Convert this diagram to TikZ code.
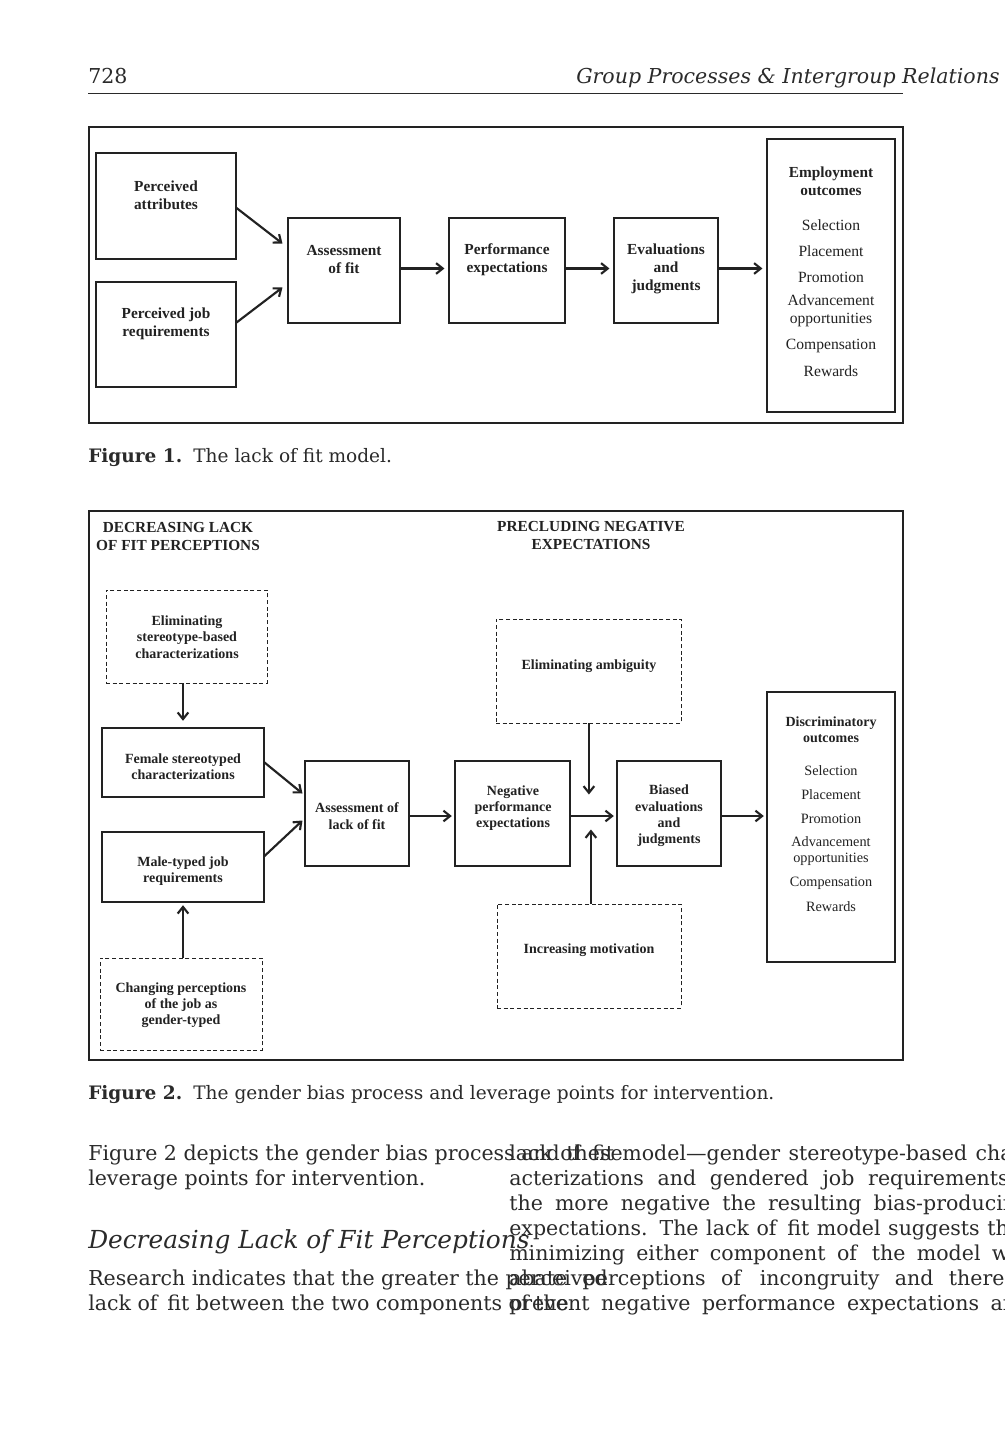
\documentclass[tikz,border=0pt]{standalone}
\usepackage{fontspec}
\setmainfont{DejaVu Serif}
\newfontfamily\figfont{Liberation Serif}
\usetikzlibrary{arrows.meta,calc}
\definecolor{ink}{HTML}{222222}
\definecolor{bodyink}{HTML}{2A2A2A}
\newcommand{\bodysize}{\fontsize{15.4}{18.8}\selectfont}

\begin{document}
\begin{tikzpicture}[x=0.75pt,y=-0.75pt,
  box/.style={draw=ink,line width=0.8pt,inner sep=0pt},
  dbox/.style={box,line width=0.7pt,dash pattern=on 3pt off 2pt},
  sz/.style 2 args={minimum width=#1*0.75pt,minimum height=#2*0.75pt},
  arr/.style={draw=ink,line width=1.6pt,-{Straight Barb[length=5pt,width=8pt]}},
  lbl/.style={align=center,text=ink,inner sep=0pt,font=\figfont\bfseries\fontsize{11.5}{13.5}\selectfont},
  lbltwo/.style={align=center,text=ink,inner sep=0pt,font=\figfont\bfseries\fontsize{10.5}{12.2}\selectfont},
  item/.style={align=center,text=ink,inner sep=0pt,font=\figfont\fontsize{11.7}{13.5}\selectfont},
  itemtwo/.style={align=center,text=ink,inner sep=0pt,font=\figfont\fontsize{10.7}{12.2}\selectfont},
  heading/.style={align=center,text=ink,inner sep=0pt,font=\figfont\bfseries\fontsize{11.5}{13.5}\selectfont},
  line/.style={anchor=base west,inner sep=0pt,text=bodyink,font=\bodysize}]
\useasboundingbox (0,0) rectangle (1004,1430);
\fill[white] (0,0) rectangle (1004,1430);
\clip (0,0) rectangle (1004,1430);

% running head
\node[line] (pnum) at (88,84) {728};
\node[line,font=\bodysize\itshape] (jname) at (576,84) {Group Processes \& Intergroup Relations};
\draw[line width=0.6pt,bodyink] (88,93) -- (903,93);

% Figure 1
\draw[draw=ink,line width=0.9pt] (89,127) rectangle (903,423);

\node[box,sz={140}{106}] (pa) at (166,206) {};
\node[lbl] (patxt) at (166,195) {Perceived\\attributes};
\node[box,sz={140}{105}] (pj) at (166,334.5) {};
\node[lbl] (pjtxt) at (166,324) {Perceived job\\requirements};
\node[box,sz={112}{105}] (fit) at (344,270.5) {};
\node[lbl] (fittxt) at (344,260) {Assessment\\of fit};
\node[box,sz={116}{105}] (perf) at (507,270.5) {};
\node[lbl] (perftxt) at (507,260) {Performance\\expectations};
\node[box,sz={104}{105}] (eval) at (666,270.5) {};
\node[lbl] (evaltxt) at (666,269) {Evaluations\\and\\judgments};
\node[box,sz={128}{273}] (emp) at (831,275.5) {};
\node[lbl] (emptxt) at (831,181) {Employment\\outcomes};
\foreach \t/\y in {Selection/225,Placement/251,Promotion/277,{Advancement\\opportunities}/311,Compensation/346,Rewards/371}
{
\node[item] (emp\y) at (831,\y) {\t};
}

\draw[arr] ($(pa.east)+(0,2)$) -- ($(fit.west)+(-5,-27)$);
\draw[arr] ($(pj.east)+(0,-12)$) -- ($(fit.west)+(-5,17)$);
\draw[arr,shorten >=3pt] ($(fit.east)+(0,-2)$) -- ($(perf.west)+(0,-2)$);
\draw[arr,shorten >=3pt] ($(perf.east)+(0,-2)$) -- ($(eval.west)+(0,-2)$);
\draw[arr,shorten >=3pt] ($(eval.east)+(0,-2)$) -- ($(emp.west |- eval.east)+(0,-2)$);

\node[anchor=base west,inner sep=0pt,text=bodyink,font=\fontsize{13.9}{16}\selectfont] (cap1) at (88,462)
  {\textbf{Figure 1.}\hspace{0.6em}The lack of fit model.};

% Figure 2
\draw[draw=ink,line width=0.9pt] (89,511) rectangle (903,1060);

\node[heading] (hdfit) at (178,536) {DECREASING LACK\\OF FIT PERCEPTIONS};
\node[heading] (hdexp) at (591,535) {PRECLUDING NEGATIVE\\EXPECTATIONS};

\node[dbox,sz={161}{93}] (esb) at (186.5,636.5) {};
\node[lbltwo] (esbtxt) at (187,637) {Eliminating\\stereotype-based\\characterizations};
\node[dbox,sz={185}{104}] (amb) at (588.5,671) {};
\node[lbltwo] (ambtxt) at (589,666) {Eliminating ambiguity};
\node[dbox,sz={162}{92}] (cp) at (181,1004) {};
\node[lbltwo] (cptxt) at (181,1005) {Changing perceptions\\of the job as\\gender-typed};
\node[dbox,sz={184}{104}] (mot) at (589,956) {};
\node[lbltwo] (mottxt) at (589,950) {Increasing motivation};

\node[box,sz={162}{69}] (fsc) at (183,762.5) {};
\node[lbltwo] (fsctxt) at (183,767) {Female stereotyped\\characterizations};
\node[box,sz={162}{70}] (mtj) at (183,867) {};
\node[lbltwo] (mtjtxt) at (183,871) {Male-typed job\\requirements};
\node[box,sz={104}{105}] (alf) at (357,813.5) {};
\node[lbltwo] (alftxt) at (357,816) {Assessment of\\lack of fit};
\node[box,sz={115}{105}] (npe) at (512.5,813.5) {};
\node[lbltwo] (npetxt) at (513,808) {Negative\\performance\\expectations};
\node[box,sz={104}{105}] (bej) at (669,813.5) {};
\node[lbltwo] (bejtxt) at (669,816) {Biased\\evaluations\\and\\judgments};
\node[box,sz={128}{270}] (dis) at (831,827) {};
\node[lbltwo] (distxt) at (831,730) {Discriminatory\\outcomes};
\foreach \t/\y in {Selection/771,Placement/795,Promotion/819,{Advancement\\opportunities}/851,Compensation/883,Rewards/907}
{
\node[itemtwo] (dis\y) at (831,\y) {\t};
}

\coordinate (jn) at ($(npe.east)!0.4!(bej.west)$);

\draw[arr,shorten >=5pt] (fsc.north |- esb.south) -- (fsc.north);
\draw[arr,shorten >=2pt] (mtj.south |- cp.north) -- (mtj.south);
\draw[arr] (fsc.east) -- ($(alf.west)+(-2,-20)$);
\draw[arr] ($(mtj.east)+(0,-11)$) -- ($(alf.west)+(-2,7)$);
\draw[arr,shorten >=2pt] ($(alf.east)+(0,2.5)$) -- ($(npe.west)+(0,2.5)$);
\draw[arr,shorten >=2pt] ($(npe.east)+(0,2.5)$) -- ($(bej.west)+(0,2.5)$);
\draw[arr,shorten >=2pt] ($(bej.east)+(0,2.5)$) -- ($(dis.west |- bej.east)+(0,2.5)$);
\draw[arr] (amb.south -| jn) -- ($(jn)+(0,-19)$);
\draw[arr] ($(mot.north -| jn)+(2,0)$) -- ($(jn)+(2,16)$);

\node[anchor=base west,inner sep=0pt,text=bodyink,font=\fontsize{13.9}{16}\selectfont] (cap2) at (88,1099)
  {\textbf{Figure 2.}\hspace{0.6em}The gender bias process and leverage points for intervention.};

% body text
\node[line] (l1) at (88,1160) {Figure 2 depicts the gender bias process and these};
\node[line] (l2) at (88,1185) {leverage points for intervention.};
\node[line,font=\itshape\fontsize{18.6}{22}\selectfont] (sec) at (88,1248) {Decreasing Lack of Fit Perceptions};
\node[line] (l3) at (88,1285) {Research indicates that the greater the perceived};
\node[line] (l4) at (88,1310) {lack of\, fit between the two components of the};

\foreach \l [count=\i] in {lack of\, fit model—gender stereotype-based char-,
  acterizations and gendered job requirements—,
  the more negative the resulting bias-producing,
  expectations. The lack of\, fit model suggests that,
  minimizing either component of\, the model will,
  abate perceptions of\, incongruity and thereby,
  prevent negative performance expectations and}
{
\node[line] (r\i) at (509,{1160+25*(\i-1)}) {\makebox[390pt][s]{\l}};
}
\end{tikzpicture}
\end{document}
